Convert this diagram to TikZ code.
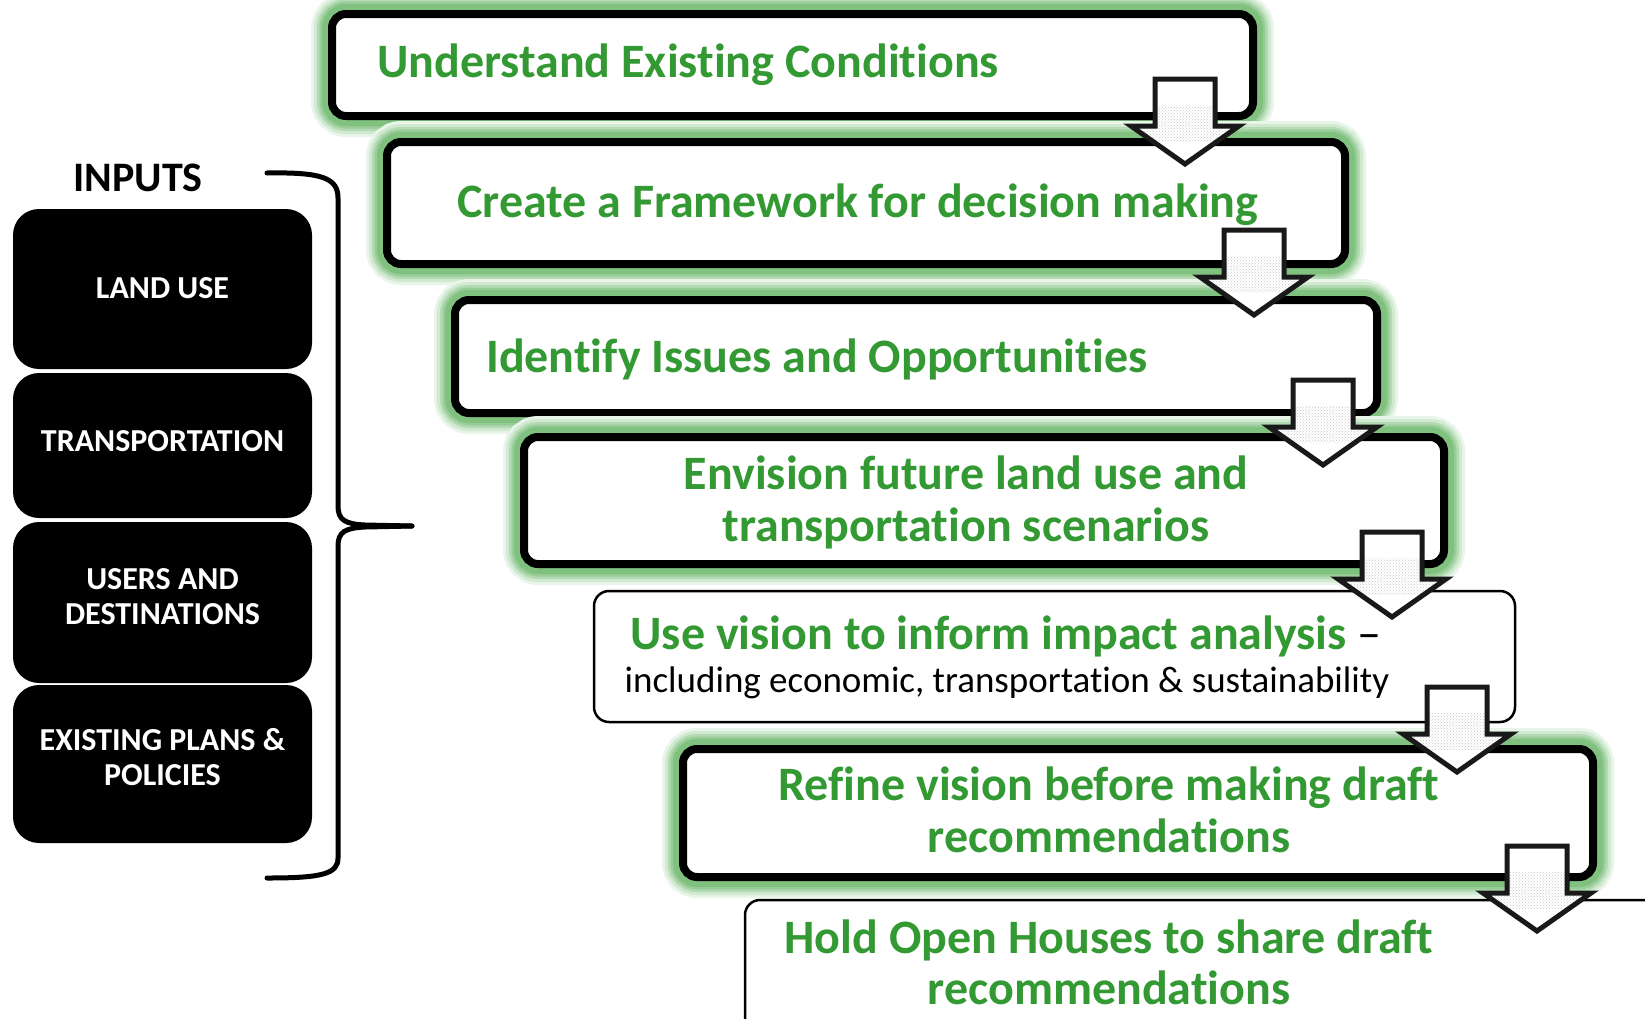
\documentclass[tikz,border=0pt]{standalone}
\usepackage{fontspec}
\setmainfont{Carlito}[Ligatures=NoCommon]
\usetikzlibrary{patterns}
\definecolor{gtext}{RGB}{51,153,51}
\definecolor{glowA}{RGB}{232,245,232}
\definecolor{glowB}{RGB}{208,233,208}
\definecolor{glowC}{RGB}{180,218,180}
\definecolor{glowD}{RGB}{152,205,152}
\definecolor{glowE}{RGB}{128,193,128}
\tikzset{
  glowbox/.style={fill=white, draw=black, line width=8pt, rounded corners=14pt,
    inner sep=0pt, outer sep=0pt,
    preaction={draw=glowA, line width=42pt, rounded corners=14pt},
    preaction={draw=glowB, line width=36pt, rounded corners=14pt},
    preaction={draw=glowC, line width=30pt, rounded corners=14pt},
    preaction={draw=glowD, line width=25pt, rounded corners=14pt},
    preaction={draw=glowE, line width=20pt, rounded corners=14pt}},
  thinbox/.style={fill=white, draw=black, line width=2.5pt, rounded corners=15pt,
    inner sep=0pt, outer sep=0pt},
  inbox/.style={fill=black, rounded corners=26pt, minimum width=299pt, inner sep=0pt},
  intext/.style={text=white, align=center, inner sep=0pt,
    font=\bfseries\fontsize{32}{35}\selectfont},
  gline/.style={text=gtext, inner sep=0pt, font=\bfseries\fontsize{48}{50}\selectfont},
  arrowline/.style={draw=black!90, line width=5pt, line join=miter},
  bracket/.style={draw=black, line width=5pt, line cap=round}
}
\def\arrpath#1#2{({#1-30},{#2+2}) -- ({#1+30},{#2+2}) -- ({#1+30},{#2+49}) -- ({#1+54},{#2+49}) -- ({#1},{#2+87}) -- ({#1-54},{#2+49}) -- ({#1-30},{#2+49}) -- cycle}
\newcommand{\myblockarrow}[2]{%
  \fill[white] \arrpath{#1}{#2};
  \begin{scope}
    \clip \arrpath{#1}{#2};
    \fill[pattern=crosshatch dots, pattern color=gray!45] ({#1-60},{#2+28}) rectangle ({#1+60},{#2+64});
  \end{scope}
  \draw[arrowline] \arrpath{#1}{#2};
}
\begin{document}
\begin{tikzpicture}[x=1pt, y=-1pt]
\useasboundingbox (0,0) rectangle (1645,1018);
\clip (0,0) rectangle (1645,1018);

% right-hand step boxes
\node[glowbox, minimum width=921pt, minimum height=102pt] (b1) at (792.5,65) {};
\node[gline, anchor=base west] (t1) at (377,77) {Understand Existing Conditions};

\node[glowbox, minimum width=958pt, minimum height=122pt] (b2) at (866,203) {};
\node[gline, anchor=base west] (t2) at (457,217) {Create a Framework for decision making};

\node[glowbox, minimum width=922pt, minimum height=113pt] (b3) at (916,356.5) {};
\node[gline, anchor=base west] (t3) at (486,372) {Identify Issues and Opportunities};

\node[glowbox, minimum width=920pt, minimum height=127pt] (b4) at (984,500.5) {};
\node[gline, anchor=base] (t4a) at (966,489) {Envision future land use and};
\node[gline, anchor=base] (t4b) at (966,541) {transportation scenarios};

\node[thinbox, minimum width=921pt, minimum height=131pt] (b5) at (1054.5,656.5) {};
\node[gline, anchor=base] (t5a) at (1006,649) {Use vision to inform impact analysis\textcolor{black}{\mdseries\ –}};
\node[inner sep=0pt, anchor=base, font=\fontsize{37}{40}\selectfont] (t5b) at (1007,692) {including economic, transportation \& sustainability};

\node[glowbox, minimum width=910pt, minimum height=128pt] (b6) at (1138,813) {};
\node[gline, anchor=base] (t6a) at (1109,800) {Refine vision before making draft};
\node[gline, anchor=base] (t6b) at (1109,852) {recommendations};

\node[thinbox, minimum width=960pt, minimum height=220pt] (b7) at (1225,1010) {};
\node[gline, anchor=base] (t7a) at (1109,953) {Hold Open Houses to share draft};
\node[gline, anchor=base] (t7b) at (1109,1004) {recommendations};

% block arrows between steps
\myblockarrow{1185}{77}
\myblockarrow{1254}{228}
\myblockarrow{1323}{378}
\myblockarrow{1392}{530}
\myblockarrow{1457}{685}
\myblockarrow{1537}{844}

% inputs
\node[inner sep=0pt, font=\bfseries\fontsize{42}{44}\selectfont] (inputs) at (138,178) {INPUTS};
\node[inbox, minimum height=160pt] (land) at (162.5,289) {};
\node[inbox, minimum height=145pt] (trans) at (162.5,445.5) {};
\node[inbox, minimum height=161pt] (users) at (162.5,602.5) {};
\node[inbox, minimum height=158pt] (plans) at (162.5,764) {};
\node[intext] (landt) at (162.5,288) {LAND USE};
\node[intext] (transt) at (162.5,441) {TRANSPORTATION};
\node[intext] (userst) at (162.5,597) {USERS AND\\DESTINATIONS};
\node[intext] (planst) at (162.5,757) {EXISTING PLANS \&\\POLICIES};

% brace
\coordinate (brtop) at (267,173);
\coordinate (brtip) at (412,526);
\coordinate (brbot) at (267,878);
\draw[bracket] (brtop) .. controls (322,172) and (338,178) .. (338,198) -- (338,506)
  .. controls (338,520) and (345,524) .. (365,525) -- (brtip);
\draw[bracket] (brtip) -- (365,527) .. controls (345,528) and (338,532) .. (338,546)
  -- (338,858) .. controls (338,874) and (322,878) .. (brbot);
\end{tikzpicture}
\end{document}
